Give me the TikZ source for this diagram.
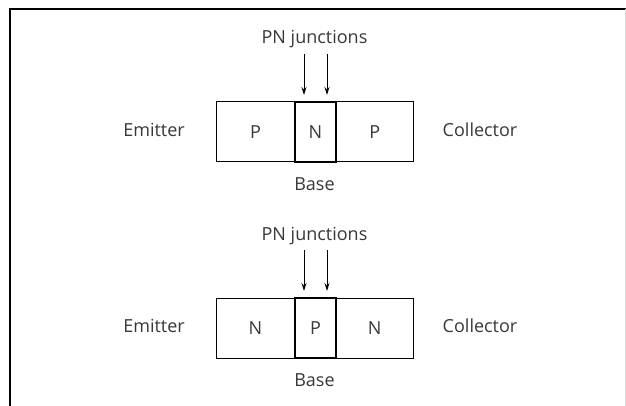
\documentclass[tikz,border=0pt]{standalone}
\usepackage{fontspec}
\setmainfont{Open Sans}
\usetikzlibrary{arrows.meta}
\tikzset{
  layer/.style={draw,line width=1pt,minimum height=60pt,text height=12.5pt,text depth=0pt,inner sep=0pt,text=black!78},
  lbl/.style={text=black!78,anchor=base,inner sep=0pt},
}
\begin{document}
\begin{tikzpicture}[x=1pt,y=-1pt,>={Stealth[length=8pt,width=5pt]},font=\fontsize{18}{21}\selectfont]
\useasboundingbox (0,0) rectangle (626,406);
% frame
\draw[line width=1.6pt] (10,406) -- (10,9) -- (626,9);
\draw[black!15,line width=1pt] (625.5,9) -- (625.5,406);

\foreach \i/\y/\a/\b in {1/0/P/N,2/196/N/P}{
  \node[layer,minimum width=79pt] (left\i) at (255.5,132+\y) {\a};
  \node[layer,minimum width=77.5pt] (right\i) at (374.75,132+\y) {\a};
  \node[layer,minimum width=41pt,line width=1.4pt] (mid\i) at (315.5,132+\y) {\b};
  \node[lbl] (emit\i) at (154,136.5+\y) {Emitter};
  \node[lbl] (coll\i) at (480,136.5+\y) {Collector};
  \node[lbl] (base\i) at (314.5,190.5+\y) {Base};
  \node[lbl] (pn\i) at (314.5,44+\y) {PN junctions};
  \coordinate (ja\i) at (304,54+\y);
  \coordinate (jb\i) at (304,95+\y);
  \coordinate (ka\i) at (327,54+\y);
  \coordinate (kb\i) at (327,95+\y);
  \draw[->,line width=1pt] (ja\i) -- (jb\i);
  \draw[->,line width=1pt] (ka\i) -- (kb\i);
}
\end{tikzpicture}
\end{document}
